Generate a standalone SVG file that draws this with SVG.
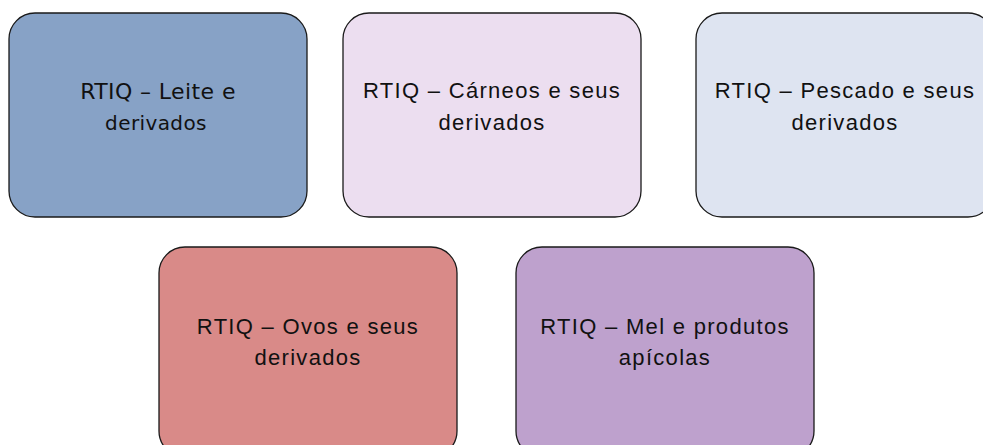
<svg xmlns="http://www.w3.org/2000/svg" width="983" height="445" viewBox="0 0 983 445">
<style>
.box{stroke:#1a1a1a;stroke-width:1.3}
.t{font-family:"Liberation Sans",Arial,sans-serif;font-size:22px;letter-spacing:1.3px;fill:#111;text-anchor:middle}
.d{font-family:"DejaVu Sans",Verdana,sans-serif;fill:#111;text-anchor:middle;letter-spacing:0.4px}
</style>
<rect width="983" height="445" fill="#fff"/>
<g id="leite">
<rect class="box" x="9" y="13" width="298" height="204" rx="26" fill="#87a2c6"/>
<text class="d" x="158" y="99" font-size="22">RTIQ – Leite e</text>
<text class="d" x="156" y="130" font-size="20">derivados</text>
</g>
<g id="carneos">
<rect class="box" x="343" y="13" width="298" height="204" rx="26" fill="#ecdef0"/>
<text class="t" x="492" y="98">RTIQ – Cárneos e seus</text>
<text class="t" x="492" y="130">derivados</text>
</g>
<g id="pescado">
<rect class="box" x="696" y="13" width="298" height="204" rx="26" fill="#dee4f1"/>
<text class="t" x="845" y="98">RTIQ – Pescado e seus</text>
<text class="t" x="845" y="130">derivados</text>
</g>
<g id="ovos">
<rect class="box" x="159" y="247" width="298" height="210" rx="26" fill="#d98a88"/>
<text class="t" x="308" y="334">RTIQ – Ovos e seus</text>
<text class="t" x="308" y="365">derivados</text>
</g>
<g id="mel">
<rect class="box" x="516" y="247" width="298" height="210" rx="26" fill="#bea1cd"/>
<text class="t" x="665" y="334">RTIQ – Mel e produtos</text>
<text class="t" x="665" y="365">apícolas</text>
</g>
<g id="connectors"/>
</svg>
